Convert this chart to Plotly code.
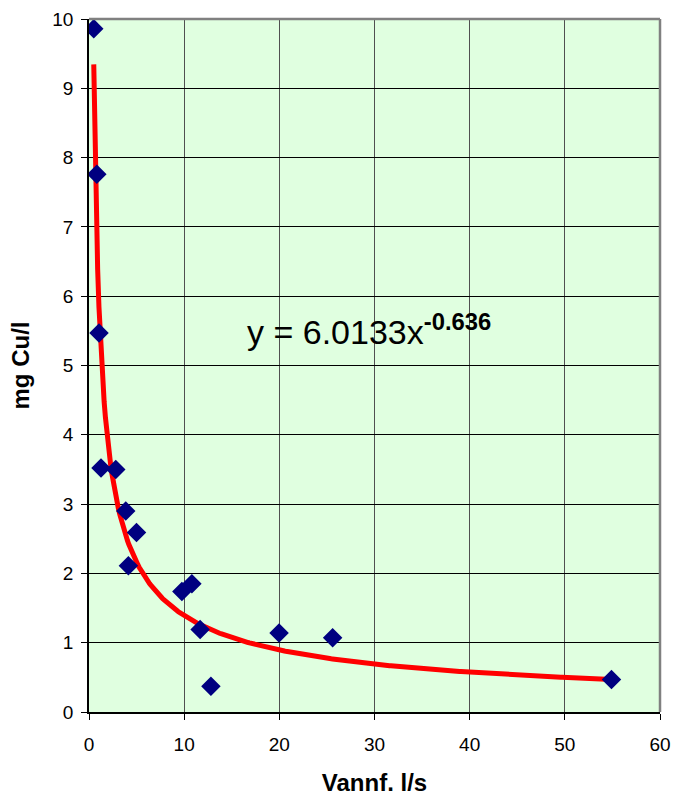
import numpy as np
import plotly.graph_objects as go

# Data
flow_ls = [0.5, 0.82, 1.05, 1.26, 2.81, 3.86, 4.14, 4.99, 9.76, 10.81, 11.68, 12.81, 19.97, 25.6, 54.9]
cu_mgl = [9.86, 7.76, 5.47, 3.52, 3.50, 2.90, 2.11, 2.59, 1.74, 1.85, 1.19, 0.37, 1.14, 1.07, 0.47]

# Power trendline coefficients as printed on the chart
trend_a = 6.0133
trend_b = -0.636

x_ticks = [0, 10, 20, 30, 40, 50, 60]
y_ticks = [0, 1, 2, 3, 4, 5, 6, 7, 8, 9, 10]

xt = np.linspace(min(flow_ls), max(flow_ls), 400)
yt = trend_a * xt ** trend_b

FONT = "Liberation Sans, Arial, sans-serif"

fig = go.Figure()
fig.add_trace(go.Scatter(
    x=xt, y=yt, mode="lines",
    line=dict(color="#FF0000", width=5),
    hoverinfo="skip", showlegend=False,
))
fig.add_trace(go.Scatter(
    x=flow_ls, y=cu_mgl, mode="markers",
    marker=dict(symbol="diamond", size=15, color="#000080",
                line=dict(width=0)),
    showlegend=False,
))

fig.add_annotation(
    x=16.4, y=5.52, xref="x", yref="y",
    xanchor="left", yanchor="middle",
    text="y = 6.0133x<sup><b>-0.636</b></sup>",
    showarrow=False,
    font=dict(family=FONT, size=34, color="black"),
)

# top and right plot border (gray)
fig.add_shape(type="line", xref="paper", yref="paper", x0=0, x1=1, y0=1, y1=1,
              line=dict(color="#808080", width=2.5))
fig.add_shape(type="line", xref="paper", yref="paper", x0=1, x1=1, y0=0, y1=1,
              line=dict(color="#808080", width=2.5))

fig.update_layout(
    autosize=True,
    margin=dict(l=89, r=15, t=19, b=84),
    paper_bgcolor="white",
    plot_bgcolor="#E0FFE0",
    font=dict(family=FONT, color="black"),
    showlegend=False,
)
fig.update_xaxes(
    automargin=False,
    range=[0, 60], tickvals=x_ticks, ticktext=[str(v) for v in x_ticks],
    showgrid=True, gridcolor="#505050", gridwidth=1,
    showline=True, linecolor="black", linewidth=1.5,
    ticks="outside", ticklen=6, tickcolor="black", ticklabelstandoff=8,
    tickfont=dict(size=19), zeroline=False,
    title=dict(text="<b>Vannf. l/s</b>", font=dict(size=24), standoff=22),
)
fig.update_yaxes(
    automargin=False,
    range=[0, 10], tickvals=y_ticks, ticktext=[str(v) for v in y_ticks],
    showgrid=True, gridcolor="black", gridwidth=1,
    showline=True, linecolor="black", linewidth=1.5,
    ticks="outside", ticklen=6, tickcolor="black", ticklabelstandoff=4,
    tickfont=dict(size=19), zeroline=False,
    title=dict(text="<b>mg Cu/l</b>", font=dict(size=24), standoff=16),
)

fig.write_html(
    "out.html",
    default_width="100vw",
    default_height="100vh",
    config={"responsive": True, "displayModeBar": False},
    post_script=(
        "document.documentElement.style.margin='0';"
        "document.body.style.margin='0';"
        "document.body.style.overflow='hidden';"
        "document.documentElement.style.overflow='hidden';"
        "window.dispatchEvent(new Event('resize'));"
    ),
)
